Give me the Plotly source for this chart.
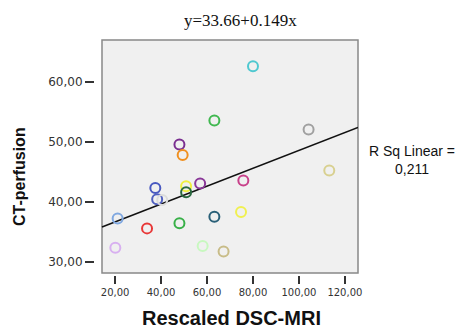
import plotly.graph_objects as go

# ---- data ----
dsc_mri = [80.0, 63.2, 104.2, 48.0, 49.4, 113.2, 37.5, 50.9, 57.0, 75.8,
           50.9, 38.3, 40.5, 21.1, 63.2, 74.8, 33.9, 48.0, 20.1, 58.1, 67.2]
ct_perf = [62.6, 53.55, 52.05, 49.55, 47.8, 45.2, 42.3, 42.6, 43.05, 43.55,
           41.6, 40.4, 40.3, 37.2, 37.5, 38.3, 35.55, 36.4, 32.3, 32.6, 31.7]
colors = ["#4fc8d0", "#40b850", "#a0a0a0", "#7a2f90", "#f09020", "#d8d090",
          "#4858c0", "#f0f040", "#8a3898", "#c8408a", "#2a6a40", "#5060c0",
          "#dcdcdc", "#80a8e0", "#2a6078", "#f0f050", "#e83838", "#38b048",
          "#d8b0f0", "#c8f8c0", "#c8bc88"]
intercept = 33.66
slope = 0.149
r_sq = "0,211"
x_ticks = [20, 40, 60, 80, 100, 120]
y_ticks = [30, 40, 50, 60]
x_frame = [14.3, 125.7]    # data values at the plot frame
y_frame = [28.1, 67.0]

# page has an 8px body margin; figure placed at (8, 8)
OFF = 8
W, H = 464 - OFF, 329 - OFF
# paper area in page pixels: x 95..358, y 40..275
L = 95 - OFF
T = 40 - OFF
R = W - (358 - OFF)
B = H - (275 - OFF)
pw = W - L - R
ph = H - T - B
def px(x):   # page pixel -> paper fraction
    return (x - OFF - L) / pw
def py(y):
    return (H - B - (y - OFF)) / ph

# frame in page pixels: left 102, right 358, top 40, bottom 273
fx0, fx1, fy0, fy1 = 102, 358, 273, 40
xs = (x_frame[1] - x_frame[0]) / (fx1 - fx0)
ys = (y_frame[1] - y_frame[0]) / (fy0 - fy1)
x_range = [x_frame[0] - (fx0 - 95) * xs, x_frame[1]]
y_range = [y_frame[0] - (275 - fy0) * ys, y_frame[1]]

fig = go.Figure()

fig.add_trace(go.Scatter(
    x=x_frame, y=[intercept + slope * v for v in x_frame],
    mode="lines", line=dict(color="#111111", width=1.6),
    hoverinfo="skip", showlegend=False))

fig.add_trace(go.Scatter(
    x=dsc_mri, y=ct_perf, mode="markers",
    marker=dict(symbol="circle-open", size=10, color=colors,
                line=dict(width=2, color=colors)),
    showlegend=False))

fig.update_layout(
    template="none",
    width=W, height=H,
    margin=dict(l=L, r=R, t=T, b=B, pad=0, autoexpand=False),
    paper_bgcolor="white", plot_bgcolor="rgba(0,0,0,0)",
    showlegend=False,
    xaxis=dict(domain=[0, 1], range=x_range, tickvals=x_ticks,
               ticktext=[f"{v},00" for v in x_ticks], automargin=False,
               ticks="outside", ticklen=8, tickwidth=1.5, tickcolor="#333333",
               showgrid=False, zeroline=False, showline=False,
               tickfont=dict(family="DejaVu Sans", size=10, color="#333333")),
    yaxis=dict(domain=[0, 1], range=y_range, tickvals=y_ticks,
               ticktext=[f"{v},00" for v in y_ticks], automargin=False,
               ticks="outside", ticklen=9, tickwidth=1.5, tickcolor="#333333",
               showgrid=False, zeroline=False, showline=False,
               tickfont=dict(family="DejaVu Sans", size=12, color="#333333")),
)

# plot frame and background
fig.add_shape(type="rect", xref="paper", yref="paper",
              x0=px(fx0), x1=px(fx1), y0=py(fy0), y1=py(fy1), layer="below",
              fillcolor="#f0f0f0", line=dict(color="#888888", width=1.5))

common = dict(xref="paper", yref="paper", showarrow=False,
              xanchor="center", yanchor="middle")
fig.add_annotation(text=f"y={intercept}+{slope}x", x=px(240), y=py(20),
                   font=dict(family="Liberation Serif", size=17, color="#111111"),
                   **common)
fig.add_annotation(text="<b>CT-perfusion</b>", x=px(19), y=py(177), textangle=-90,
                   font=dict(family="Liberation Sans", size=16, color="#111111"),
                   **common)
fig.add_annotation(text="<b>Rescaled DSC-MRI</b>", x=px(231), y=py(318),
                   font=dict(family="Liberation Sans", size=20, color="#111111"),
                   **common)
fig.add_annotation(text=f"R Sq Linear =<br>{r_sq}", x=px(412), y=py(160),
                   font=dict(family="Liberation Sans", size=14, color="#111111"),
                   **common)

fig.write_html("out.html")
